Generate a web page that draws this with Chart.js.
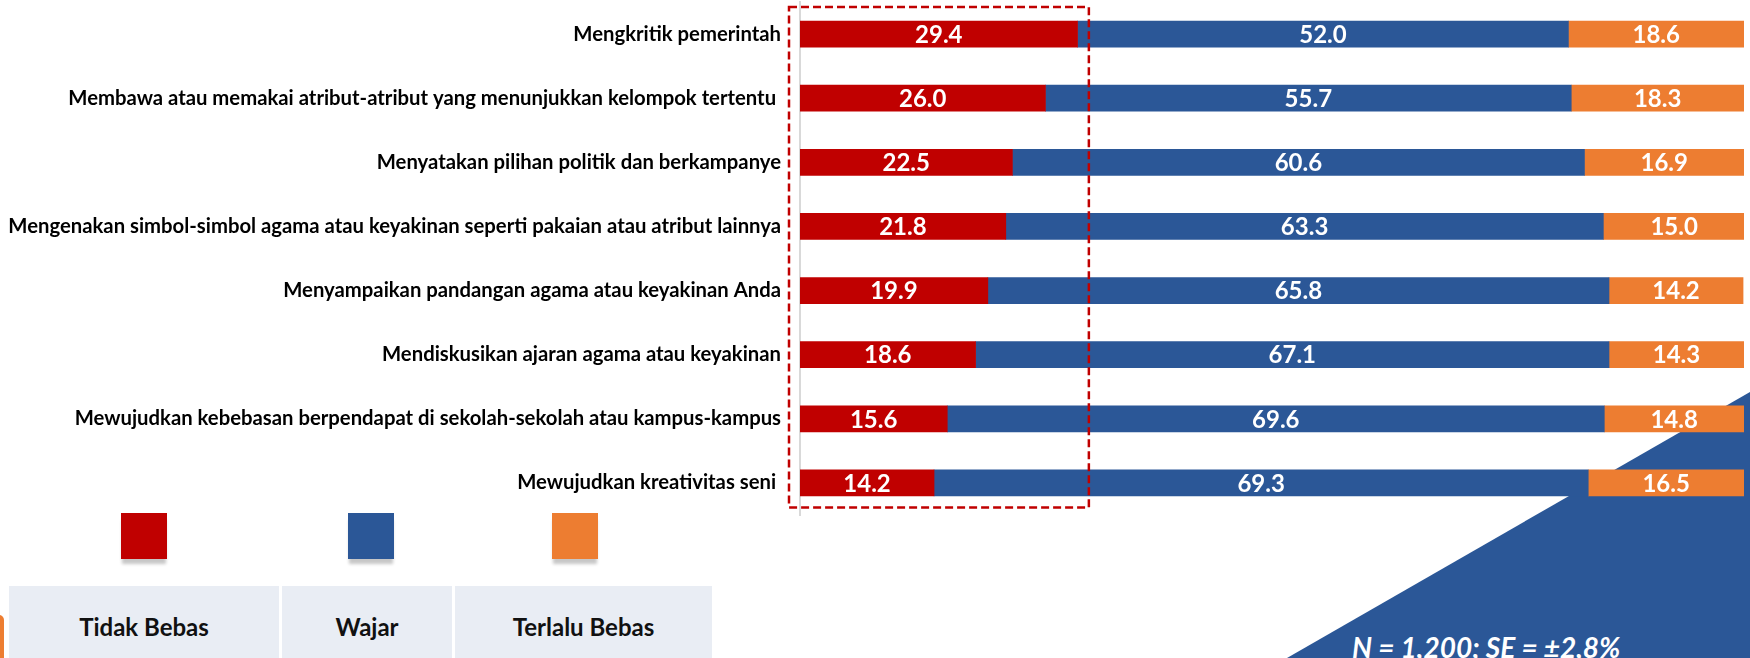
<!DOCTYPE html>
<html>
<head>
<meta charset="utf-8">
<script src="https://cdn.jsdelivr.net/npm/chart.js@4.4.0/dist/chart.umd.min.js"></script>
<style>
  body { margin: 0; width: 1750px; height: 658px; overflow: hidden; background: #fff; position: relative; font-family: Lato, sans-serif; }
  #tri { position: absolute; left: 0; top: 0; width: 1750px; height: 658px; background: #2B5797;
         clip-path: polygon(1750px 392px, 1750px 658px, 1287px 658px); }
  #wrap { position: absolute; left: 0; top: 0; width: 1750px; height: 517px; }
  .sq { position: absolute; top: 513px; width: 46px; height: 46px; box-shadow: 0 6px 3px -1px rgba(0,0,0,0.22); }
  .cell { position: absolute; top: 586px; height: 80px; background: #E9EDF4; color: #111;
          font: bold 24px Lato, sans-serif; display: flex; align-items: center; justify-content: center; }
  #nota { position: absolute; left: 1352px; top: 630px; line-height: 28px; color: #fff; font: italic bold 28px Lato, sans-serif; white-space: nowrap; }
  #bit { position: absolute; left: -6px; top: 615px; width: 10px; height: 60px; border-radius: 5px; background: #ED7D31; }
</style>
</head>
<body>
<div id="tri"></div>
<div id="bit"></div>
<div id="wrap"><canvas id="grafico"></canvas></div>
<div id="leyenda"></div>
<div id="nota">N = 1,200; SE = ±2,8%</div>
<script>
// Datos del gráfico
const categorias = [
    'Mengkritik pemerintah',
    'Membawa atau memakai atribut-atribut yang menunjukkan kelompok tertentu ',
    'Menyatakan pilihan politik dan berkampanye',
    'Mengenakan simbol-simbol agama atau keyakinan seperti pakaian atau atribut lainnya',
    'Menyampaikan pandangan agama atau keyakinan Anda',
    'Mendiskusikan ajaran agama atau keyakinan',
    'Mewujudkan kebebasan berpendapat di sekolah-sekolah atau kampus-kampus',
    'Mewujudkan kreativitas seni '
];
const tidakBebas = [29.4, 26.0, 22.5, 21.8, 19.9, 18.6, 15.6, 14.2];
const wajar = [52.0, 55.7, 60.6, 63.3, 65.8, 67.1, 69.6, 69.3];
const terlaluBebas = [18.6, 18.3, 16.9, 15.0, 14.2, 14.3, 14.8, 16.5];

const series = ['Tidak Bebas', 'Wajar', 'Terlalu Bebas'];
const colores = ['#C00000', '#2B5797', '#ED7D31'];

// Etiquetas blancas dentro de cada barra
const etiquetasBarras = {
    id: 'etiquetasBarras',
    afterDatasetsDraw(chart) {
        const ctx = chart.ctx;
        ctx.save();
        ctx.font = 'bold 24px Lato';
        ctx.fillStyle = '#fff';
        ctx.textAlign = 'center';
        ctx.textBaseline = 'middle';
        chart.data.datasets.forEach((ds, i) => {
            chart.getDatasetMeta(i).data.forEach((bar, j) => {
                const p = bar.getCenterPoint();
                ctx.fillText(ds.data[j].toFixed(1), p.x, p.y + 1);
            });
        });
        ctx.restore();
    }
};

// Recuadro rojo discontinuo sobre la primera serie
const recuadro = {
    id: 'recuadro',
    afterDraw(chart) {
        const { ctx, chartArea, scales } = chart;
        const izq = chartArea.left - 11;
        const der = scales.x.getPixelForValue(30.6);
        const arriba = scales.y.getPixelForValue(0) - 27;
        const abajo = scales.y.getPixelForValue(categorias.length - 1) + 24.5;
        ctx.save();
        ctx.strokeStyle = '#C00000';
        ctx.lineWidth = 2.5;
        ctx.setLineDash([8, 4]);
        ctx.strokeRect(izq, arriba, der - izq, abajo - arriba);
        ctx.restore();
    }
};

new Chart(document.getElementById('grafico'), {
    type: 'bar',
    data: {
        labels: categorias,
        datasets: [tidakBebas, wajar, terlaluBebas].map((d, i) => ({
            label: series[i],
            data: d,
            backgroundColor: colores[i],
            barThickness: 26,
            borderWidth: 0
        }))
    },
    options: {
        indexAxis: 'y',
        responsive: true,
        maintainAspectRatio: false,
        animation: false,
        layout: { padding: { top: 2, right: 6, bottom: 2, left: 0 } },
        plugins: {
            legend: { display: false },
            tooltip: { enabled: false }
        },
        scales: {
            x: { stacked: true, min: 0, max: 100, display: false },
            y: {
                stacked: true,
                grid: { display: false, drawTicks: false },
                border: { display: true, color: '#D9D9D9', width: 2 },
                ticks: { color: '#000', padding: 19, font: { family: 'Lato', weight: 'bold', size: 20.3 } },
                afterFit(scale) {
                    scale.width = 800;
                    scale.paddingTop = 0;
                    scale.paddingBottom = 0;
                }
            }
        }
    },
    plugins: [etiquetasBarras, recuadro]
});

// Leyenda en tabla debajo del gráfico
const celdas = [[9, 270], [282, 170], [455, 257]];
const cuadros = [121, 348, 552];
const leyenda = document.getElementById('leyenda');
series.forEach((s, i) => {
    const sq = document.createElement('div');
    sq.className = 'sq';
    sq.style.left = cuadros[i] + 'px';
    sq.style.background = colores[i];
    leyenda.appendChild(sq);
    const c = document.createElement('div');
    c.className = 'cell';
    c.style.left = celdas[i][0] + 'px';
    c.style.width = celdas[i][1] + 'px';
    c.textContent = s;
    leyenda.appendChild(c);
});
</script>
</body>
</html>
